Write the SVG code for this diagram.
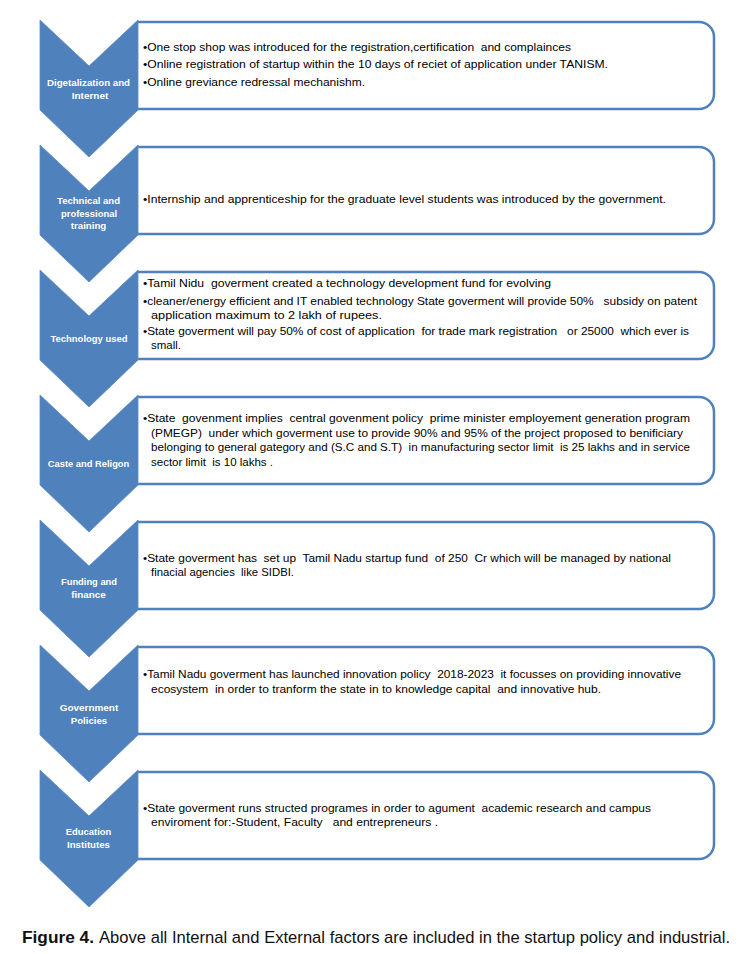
<svg xmlns="http://www.w3.org/2000/svg" width="750" height="954" viewBox="0 0 750 954">
<style>
.chev{fill:#4F81BD;stroke:#5B8AC4;stroke-width:0.8}
.box{fill:#FFFFFF;stroke:#4F81BD;stroke-width:2.5}
.lbl{font-family:"Liberation Sans",Arial,sans-serif;font-size:9px;font-weight:bold;fill:#FFFFFF;text-anchor:middle}
.txt{font-family:"Liberation Sans",Arial,sans-serif;font-size:10.5px;fill:#000000;white-space:pre}
.cap{font-family:"Liberation Sans",Arial,sans-serif;font-size:17px;fill:#111111}
</style>
<rect x="0" y="0" width="750" height="954" fill="#FFFFFF"/>
<g id="connectors"></g>

<g id="node1">
<path class="box" d="M137,22 H699 A15,15 0 0 1 714,37 V94 A15,15 0 0 1 699,109 H137"/>
<polygon class="chev" points="40,20 89,66 138,20 138,110 89,157 40,110"/>
<text class="lbl" x="88.5" y="86" textLength="83" lengthAdjust="spacingAndGlyphs">Digetalization and</text>
<text class="lbl" x="90" y="99" textLength="36.5" lengthAdjust="spacingAndGlyphs">Internet</text>
<text class="txt" x="143" y="51" textLength="428" lengthAdjust="spacingAndGlyphs">•One stop shop was introduced for the registration,certification  and complainces</text>
<text class="txt" x="143" y="68" textLength="465" lengthAdjust="spacingAndGlyphs">•Online registration of startup within the 10 days of reciet of application under TANISM.</text>
<text class="txt" x="143" y="86" textLength="222" lengthAdjust="spacingAndGlyphs">•Online greviance redressal mechanishm.</text>
</g>

<g id="node2">
<path class="box" d="M137,147 H699 A15,15 0 0 1 714,162 V219 A15,15 0 0 1 699,234 H137"/>
<polygon class="chev" points="40,145 89,191 138,145 138,235 89,282 40,235"/>
<text class="lbl" x="88.5" y="204" textLength="63" lengthAdjust="spacingAndGlyphs">Technical and</text>
<text class="lbl" x="89" y="217" textLength="56" lengthAdjust="spacingAndGlyphs">professional</text>
<text class="lbl" x="88.5" y="229" textLength="35.5" lengthAdjust="spacingAndGlyphs">training</text>
<text class="txt" x="143" y="203" textLength="523" lengthAdjust="spacingAndGlyphs">•Internship and apprenticeship for the graduate level students was introduced by the government.</text>
</g>

<g id="node3">
<path class="box" d="M137,272 H699 A15,15 0 0 1 714,287 V344 A15,15 0 0 1 699,359 H137"/>
<polygon class="chev" points="40,270 89,316 138,270 138,360 89,407 40,360"/>
<text class="lbl" x="89" y="342" textLength="77" lengthAdjust="spacingAndGlyphs">Technology used</text>
<text class="txt" x="143" y="287" textLength="408" lengthAdjust="spacingAndGlyphs">•Tamil Nidu  goverment created a technology development fund for evolving</text>
<text class="txt" x="143" y="305" textLength="554" lengthAdjust="spacingAndGlyphs">•cleaner/energy efficient and IT enabled technology State goverment will provide 50%   subsidy on patent</text>
<text class="txt" x="151" y="319" textLength="231" lengthAdjust="spacingAndGlyphs">application maximum to 2 lakh of rupees.</text>
<text class="txt" x="143" y="335" textLength="546" lengthAdjust="spacingAndGlyphs">•State goverment will pay 50% of cost of application  for trade mark registration   or 25000  which ever is</text>
<text class="txt" x="151" y="349" textLength="30" lengthAdjust="spacingAndGlyphs">small.</text>
</g>

<g id="node4">
<path class="box" d="M137,397 H699 A15,15 0 0 1 714,412 V469 A15,15 0 0 1 699,484 H137"/>
<polygon class="chev" points="40,395 89,441 138,395 138,485 89,532 40,485"/>
<text class="lbl" x="88.5" y="467" textLength="81.5" lengthAdjust="spacingAndGlyphs">Caste and Religon</text>
<text class="txt" x="143" y="422" textLength="547" lengthAdjust="spacingAndGlyphs">•State  govenment implies  central govenment policy  prime minister employement generation program</text>
<text class="txt" x="151" y="437" textLength="532" lengthAdjust="spacingAndGlyphs">(PMEGP)  under which goverment use to provide 90% and 95% of the project proposed to benificiary</text>
<text class="txt" x="151" y="451" textLength="539" lengthAdjust="spacingAndGlyphs">belonging to general gategory and (S.C and S.T)  in manufacturing sector limit  is 25 lakhs and in service</text>
<text class="txt" x="151" y="466" textLength="122" lengthAdjust="spacingAndGlyphs">sector limit  is 10 lakhs .</text>
</g>

<g id="node5">
<path class="box" d="M137,522 H699 A15,15 0 0 1 714,537 V594 A15,15 0 0 1 699,609 H137"/>
<polygon class="chev" points="40,520 89,566 138,520 138,610 89,657 40,610"/>
<text class="lbl" x="89" y="585" textLength="56" lengthAdjust="spacingAndGlyphs">Funding and</text>
<text class="lbl" x="88.5" y="598" textLength="34.5" lengthAdjust="spacingAndGlyphs">finance</text>
<text class="txt" x="143" y="562" textLength="528" lengthAdjust="spacingAndGlyphs">•State goverment has  set up  Tamil Nadu startup fund  of 250  Cr which will be managed by national</text>
<text class="txt" x="151" y="576" textLength="143" lengthAdjust="spacingAndGlyphs">finacial agencies  like SIDBI.</text>
</g>

<g id="node6">
<path class="box" d="M137,647 H699 A15,15 0 0 1 714,662 V719 A15,15 0 0 1 699,734 H137"/>
<polygon class="chev" points="40,645 89,691 138,645 138,735 89,782 40,735"/>
<text class="lbl" x="89" y="711" textLength="58.5" lengthAdjust="spacingAndGlyphs">Government</text>
<text class="lbl" x="89" y="724" textLength="36.4" lengthAdjust="spacingAndGlyphs">Policies</text>
<text class="txt" x="143" y="678" textLength="538" lengthAdjust="spacingAndGlyphs">•Tamil Nadu goverment has launched innovation policy  2018-2023  it focusses on providing innovative</text>
<text class="txt" x="151" y="693" textLength="450" lengthAdjust="spacingAndGlyphs">ecosystem  in order to tranform the state in to knowledge capital  and innovative hub.</text>
</g>

<g id="node7">
<path class="box" d="M137,772 H699 A15,15 0 0 1 714,787 V844 A15,15 0 0 1 699,859 H137"/>
<polygon class="chev" points="40,770 89,816 138,770 138,860 89,907 40,860"/>
<text class="lbl" x="88.5" y="835" textLength="45.6" lengthAdjust="spacingAndGlyphs">Education</text>
<text class="lbl" x="88.5" y="848" textLength="42.9" lengthAdjust="spacingAndGlyphs">Institutes</text>
<text class="txt" x="143" y="812" textLength="508" lengthAdjust="spacingAndGlyphs">•State goverment runs structed programes in order to agument  academic research and campus</text>
<text class="txt" x="151" y="826" textLength="287" lengthAdjust="spacingAndGlyphs">enviroment for:-Student, Faculty   and entrepreneurs .</text>
</g>

<g id="caption">
<text class="cap" x="22" y="943" font-weight="bold" textLength="72" lengthAdjust="spacingAndGlyphs">Figure 4.</text>
<text class="cap" x="99" y="943" textLength="631" lengthAdjust="spacingAndGlyphs">Above all Internal and External factors are included in the startup policy and industrial.</text>
</g>
</svg>
